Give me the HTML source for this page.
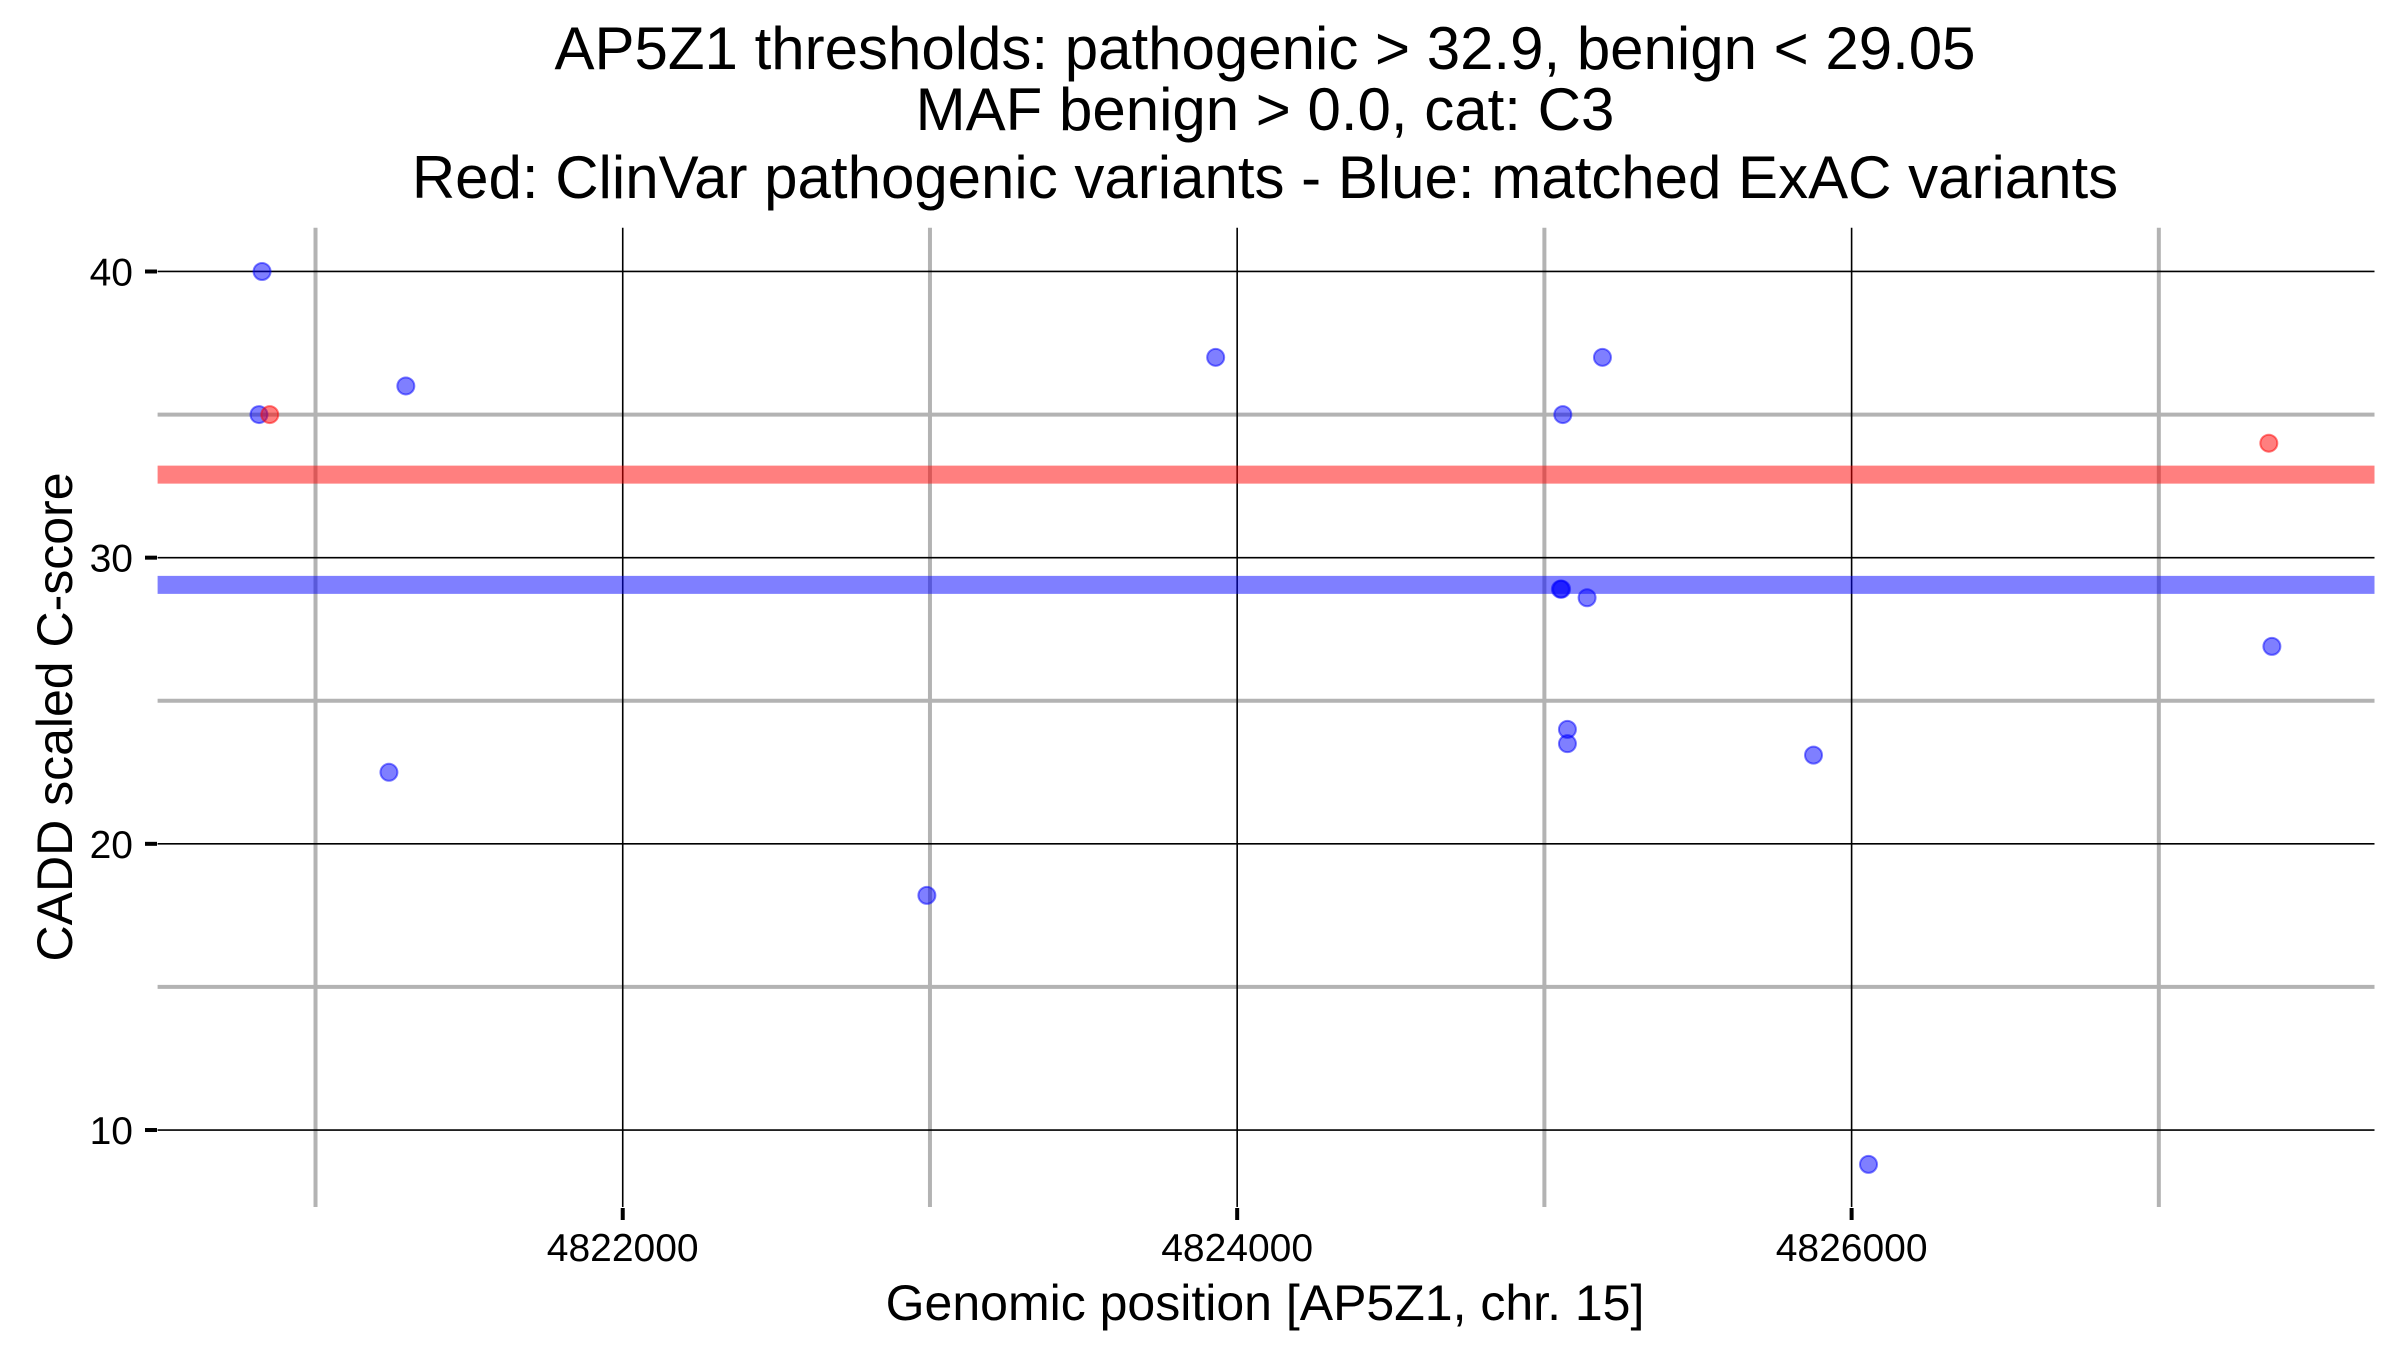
<!DOCTYPE html>
<html><head><meta charset="utf-8">
<style>
html,body{margin:0;padding:0;background:#fff;}
svg{display:block;font-family:"Liberation Sans",Arial,sans-serif;}
</style></head>
<body>
<svg id="chart" width="2400" height="1350" viewBox="0 0 2400 1350" xmlns="http://www.w3.org/2000/svg">
<g text-anchor="middle" font-size="60" fill="#000">
<text x="1265" y="69">AP5Z1 thresholds: pathogenic &gt; 32.9, benign &lt; 29.05</text>
<text x="1265" y="130">MAF benign &gt; 0.0, cat: C3</text>
<text x="1265" y="198">Red: ClinVar pathogenic variants - Blue: matched ExAC variants</text>
</g>
<g id="grid"></g>
<g id="bands"></g>
<g id="points"></g>
<g id="axes"></g>
<text x="1265" y="1320" text-anchor="middle" font-size="50">Genomic position [AP5Z1, chr. 15]</text>
<text transform="translate(55,717) rotate(-90)" text-anchor="middle" dominant-baseline="central" font-size="50">CADD scaled C-score</text>
</svg>
<script>
const xTicks = [4822000, 4824000, 4826000];
const xMinor = [4821000, 4823000, 4825000, 4827000];
const yTicks = [10, 20, 30, 40];
const yMinor = [15, 25, 35];
const thresholds = [32.9, 29.05];
const blueX = [4820826, 4820816, 4821294, 4821239, 4822990, 4823930, 4825060, 4825189, 4825052, 4825056, 4825139, 4825075, 4825075, 4825876, 4826055, 4827368];
const blueY = [40, 35, 36, 22.5, 18.2, 37, 35, 37, 28.9, 28.9, 28.6, 24.0, 23.5, 23.1, 8.8, 26.9];
const redX = [4820851, 4827358];
const redY = [35, 34];

const L = 157.6, R = 2374.5, T = 227.7, B = 1207;
const xMin = 4820486, xMax = 4827702, yMin = 7.31, yMax = 41.53;
function sx(v){ return L + (v - xMin) / (xMax - xMin) * (R - L); }
function sy(v){ return B - (v - yMin) / (yMax - yMin) * (B - T); }
const NS = "http://www.w3.org/2000/svg";
function mk(tag, parent, attrs){
  const e = document.createElementNS(NS, tag);
  for (const k in attrs) e.setAttribute(k, attrs[k]);
  parent.appendChild(e); return e;
}
const grid = document.getElementById('grid');
yMinor.forEach(v => {
  const e = mk('line', grid, {x1:L, x2:R, y1:sy(v), y2:sy(v), stroke:'#b3b3b3', 'stroke-width':4});
  
  
});
xMinor.forEach(v => {
  const e = mk('line', grid, {x1:sx(v), x2:sx(v), y1:T, y2:B, stroke:'#b3b3b3', 'stroke-width':4});
  
  
});
yTicks.forEach(v => {
  const e = mk('line', grid, {x1:L, x2:R, y1:sy(v), y2:sy(v), stroke:'#000', 'stroke-width':1.6});
  
  
});
xTicks.forEach(v => {
  const e = mk('line', grid, {x1:sx(v), x2:sx(v), y1:T, y2:B, stroke:'#000', 'stroke-width':1.6});
  
  
});
const bands = document.getElementById('bands');
const bandColors = ['rgba(255,0,0,0.5)', 'rgba(0,0,255,0.5)'];
thresholds.forEach((v, i) => {
  const e = mk('line', bands, {x1:L, x2:R, y1:sy(v), y2:sy(v), stroke:bandColors[i], 'stroke-width':18});
  
  
});
const pts = document.getElementById('points');
blueX.forEach((x, i) => {
  const e = mk('circle', pts, {cx:sx(x), cy:sy(blueY[i]), r:8.5, fill:'rgba(0,0,255,0.5)', stroke:'rgba(0,0,255,0.5)', 'stroke-width':2});
  
  
});
redX.forEach((x, i) => {
  const e = mk('circle', pts, {cx:sx(x), cy:sy(redY[i]), r:8.5, fill:'rgba(255,0,0,0.5)', stroke:'rgba(255,0,0,0.5)', 'stroke-width':2});
  
  
});
const axes = document.getElementById('axes');
yTicks.forEach(v => {
  const t = mk('line', axes, {x1:145, x2:157, y1:sy(v), y2:sy(v), stroke:'#000', 'stroke-width':4});
  
  
  const l = mk('text', axes, {x:133, y:sy(v)+14, 'text-anchor':'end', 'font-size':39});
  l.textContent = String(v);
  
  
});
xTicks.forEach(v => {
  const t = mk('line', axes, {x1:sx(v), x2:sx(v), y1:1208, y2:1220, stroke:'#000', 'stroke-width':4});
  
  
  const l = mk('text', axes, {x:sx(v), y:1261, 'text-anchor':'middle', 'font-size':39});
  l.textContent = String(v);
  
  
});
</script>
</body></html>
